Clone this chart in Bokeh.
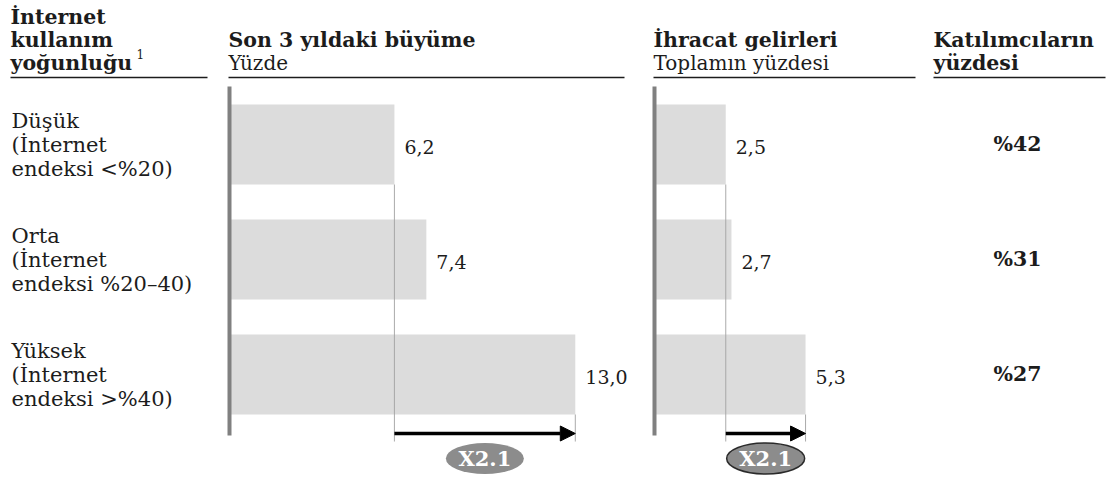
from bokeh.plotting import figure
from bokeh.models import Range1d, Arrow, NormalHead
from bokeh.core.properties import value
from bokeh.embed import file_html
from bokeh.resources import INLINE

# --- data -------------------------------------------------------------
intensity = ["Düşük", "Orta", "Yüksek"]
index_band = ["<%20", "%20–40", ">%40"]
growth = [6.2, 7.4, 13.0]          # Son 3 yıldaki büyüme, yüzde
exports = [2.5, 2.7, 5.3]          # İhracat gelirleri, toplamın yüzdesi
participants = [42, 31, 27]        # Katılımcıların yüzdesi

# --- layout constants (screen pixels / row units) ----------------------
W, H = 1111, 477
FONT = value("DejaVu Serif")
INK = "#1c1c1c"
BAR = "#dcdcdc"
AXIS = "#808080"

G_ORIGIN, G_SCALE = 229.0, 26.6     # px of 0 and px per unit, growth panel
E_ORIGIN, E_SCALE = 654.0, 28.5     # export panel
ROW0, ROW_STEP = 144.0, 115.0       # px of first row centre, px per row


def to_rows(px):
    return (px - ROW0) / ROW_STEP


BAR_H = 80.0 / ROW_STEP
AXIS_TOP, AXIS_BOTTOM = to_rows(86), to_rows(435)
ARROW_Y = to_rows(433)
GUIDE_END = to_rows(441)
BADGE_Y = to_rows(458)

rows = list(range(len(intensity)))


def fmt(v):
    return f"{v:.1f}".replace(".", ",")


p = figure(width=W, height=H, x_range=Range1d(0, W), y_range=Range1d(H, 0),
           output_backend="svg", toolbar_location=None,
           x_axis_location=None, y_axis_location=None, min_border=0,
           outline_line_color=None, background_fill_color="white",
           border_fill_color="white")
p.xgrid.visible = False
p.ygrid.visible = False

p.extra_x_ranges = {
    "growth": Range1d(-G_ORIGIN / G_SCALE, (W - G_ORIGIN) / G_SCALE),
    "export": Range1d(-E_ORIGIN / E_SCALE, (W - E_ORIGIN) / E_SCALE),
}
p.extra_y_ranges = {"rows": Range1d(to_rows(H), to_rows(0))}

# --- column headers ----------------------------------------------------
head_x = [10, 10, 10, 228, 653, 933, 933]
head_y = [16, 39, 62, 39, 39, 39, 62]
head_t = ["İnternet", "kullanım", "yoğunluğu", "Son 3 yıldaki büyüme",
          "İhracat gelirleri", "Katılımcıların", "yüzdesi"]
p.text(x=head_x, y=head_y, text=head_t, text_font=FONT, text_font_style="bold",
       text_font_size="20.5px", text_color=INK, text_baseline="alphabetic")
p.text(x=[136], y=[53], text=["1"], text_font=FONT, text_font_size="12px",
       text_color=INK, text_baseline="alphabetic")
p.text(x=[228, 653], y=[62, 62], text=["Yüzde", "Toplamın yüzdesi"],
       text_font=FONT, text_font_size="20px", text_color=INK,
       text_baseline="alphabetic")
p.segment(x0=[10, 228, 653, 933], x1=[207, 624, 915, 1105],
          y0=[77] * 4, y1=[77] * 4, line_color=INK, line_width=1.6)

# --- row labels --------------------------------------------------------
label_lines = [
    intensity,
    ["(İnternet"] * len(rows),
    [f"endeksi {b})" for b in index_band],
]
for off, txt in zip([-24, 0, 24], label_lines):
    p.text(x=[11] * len(rows), y=rows, text=txt, y_offset=off,
           y_range_name="rows", text_font=FONT, text_font_size="21px",
           text_color=INK, text_baseline="middle")

# --- bars --------------------------------------------------------------
for name, vals in (("growth", growth), ("export", exports)):
    p.hbar(y=rows, left=0, right=vals, height=BAR_H, x_range_name=name,
           y_range_name="rows", fill_color=BAR, line_color=None)

    lo, hi = vals[0], vals[-1]
    # guide lines from the smallest and largest bar down to the arrow
    p.segment(x0=[lo, hi], x1=[lo, hi],
              y0=[rows[0] + BAR_H / 2, rows[-1] + BAR_H / 2],
              y1=[GUIDE_END, GUIDE_END], x_range_name=name,
              y_range_name="rows", line_color="#a0a0a0", line_width=0.9)

    p.segment(x0=[0], x1=[0], y0=[AXIS_TOP], y1=[AXIS_BOTTOM],
              x_range_name=name, y_range_name="rows", line_color=AXIS,
              line_width=4)

    p.text(x=vals, y=rows, text=[fmt(v) for v in vals], x_offset=10,
           y_offset=2, x_range_name=name, y_range_name="rows",
           text_font=FONT, text_font_size="19px", text_color=INK,
           text_baseline="middle")

    p.add_layout(Arrow(end=NormalHead(size=15, fill_color="black",
                                      line_color="black"),
                       x_start=lo, x_end=hi, y_start=ARROW_Y, y_end=ARROW_Y,
                       line_width=3.5, line_color="black",
                       x_range_name=name, y_range_name="rows"))

    ratio = f"X{hi / lo:.1f}"
    outline = "#2a2a2a" if name == "export" else None
    p.ellipse(x=[(lo + hi) / 2], y=[BADGE_Y], width=78, height=31,
              width_units="screen", height_units="screen",
              x_range_name=name, y_range_name="rows",
              fill_color="#8c8c8c", line_color=outline, line_width=1.5)
    p.text(x=[(lo + hi) / 2], y=[BADGE_Y], text=[ratio], x_range_name=name,
           y_range_name="rows", text_font=FONT, text_font_style="bold",
           text_font_size="21px", text_color="white", text_align="center",
           text_baseline="middle")

# --- participants column -----------------------------------------------
p.text(x=[1017] * len(rows), y=rows, text=[f"%{v}" for v in participants],
       y_offset=-1, y_range_name="rows", text_font=FONT,
       text_font_style="bold", text_font_size="20.5px", text_color=INK,
       text_align="center", text_baseline="middle")

open("out.html", "w").write(file_html(p, INLINE))
